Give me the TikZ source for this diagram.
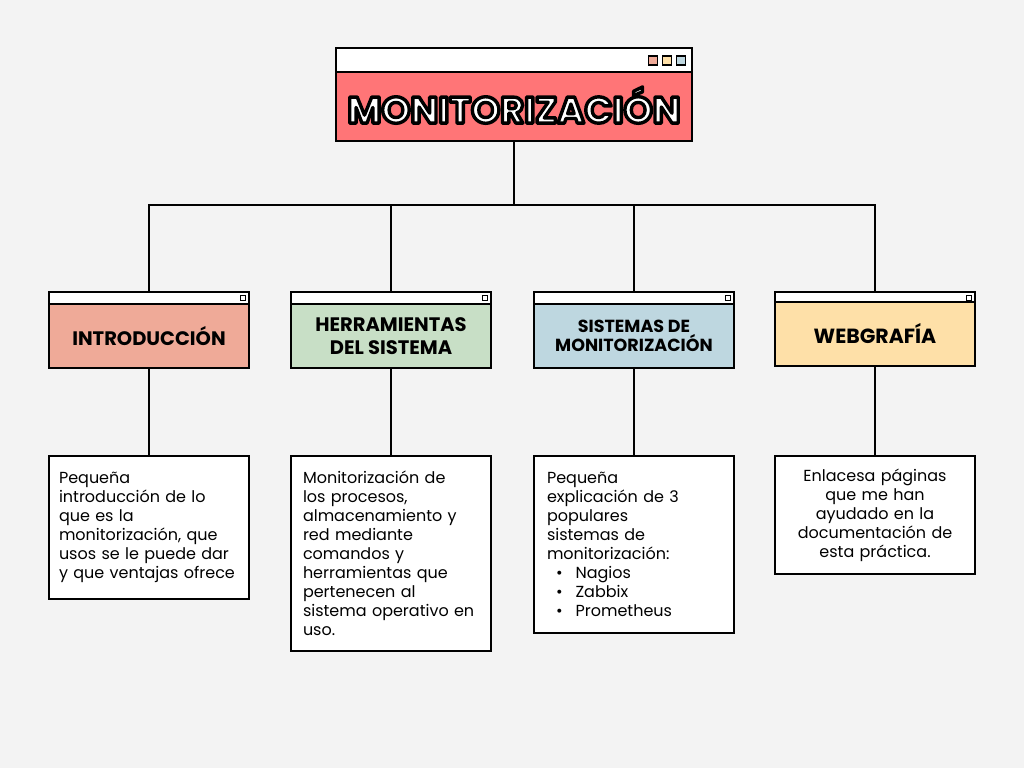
\documentclass[tikz,border=0pt]{standalone}
\usepackage{fontspec}
\setmainfont{Poppins}
\usetikzlibrary{positioning}
\definecolor{paper}{HTML}{F3F3F3}
\definecolor{titlecol}{HTML}{FF7577}
\definecolor{introcol}{HTML}{EFAA98}
\definecolor{herrcol}{HTML}{C8DFC6}
\definecolor{sistcol}{HTML}{BED7E0}
\definecolor{webcol}{HTML}{FEE0A8}
\tikzset{
    every node/.style={draw=black, line width=2pt, inner sep=0pt, outer sep=0pt}
}
\tikzset{
    headbox/.style={minimum width=200pt, minimum height=64pt, align=center,
      font=\bfseries\fontsize{19.5}{23}\selectfont},
    barbox/.style={fill=white, minimum width=200pt, minimum height=12pt},
    dotbox/.style={line width=1.2pt, minimum size=5pt, fill=white},
    textbox/.style={fill=white, anchor=north, text width=180pt, inner xsep=10pt,
      font=\fontsize{16}{19}\selectfont},
    conn/.style={line width=2pt}
}
\newcommand{\bulletitem}[1]{\hspace*{9pt}•\hspace{13pt}#1}
\newcommand{\outlined}[1]{\special{pdf:literal direct 2 Tr 3.4 w 1 j 0 0 0 RG}#1\special{pdf:literal direct 0 Tr}}

\begin{document}
\begin{tikzpicture}[x=1pt, y=-1pt]
  \fill[paper] (0, 0) rectangle (1024, 768);
  \useasboundingbox (0, 0) rectangle (1024, 768);

  \node (titlebar) [barbox, minimum width=356pt, minimum height=24pt] at (514, 60) {};
  \node (title) [fill=titlecol, minimum width=356pt, minimum height=69pt, text=white,
    font=\bfseries\fontsize{37}{37}\selectfont] at (514, 106.5) {\raisebox{3pt}{\outlined{MONITORIZACIÓN}}};
  \node (sq1) [dotbox, minimum size=9pt, fill=introcol] at (653, 60.5) {};
  \node (sq2) [dotbox, minimum size=9pt, fill=webcol] at (667, 60.5) {};
  \node (sq3) [dotbox, minimum size=9pt, fill=sistcol] at (681, 60.5) {};

  \coordinate (hub) at (514, 205);

  \node (introbar) [barbox] at (149, 298) {};
  \node (intro) [headbox, fill=introcol] at (149, 336) {INTRODUCCIÓN};
  \node (introdot) [dotbox] at (243, 298) {};

  \node (herrbar) [barbox] at (391, 298) {};
  \node (herr) [headbox, fill=herrcol] at (391, 336) {HERRAMIENTAS\\DEL SISTEMA};
  \node (herrdot) [dotbox] at (485, 298) {};

  \node (sistbar) [barbox] at (634, 298) {};
  \node (sist) [headbox, fill=sistcol, font=\bfseries\fontsize{17.5}{19}\selectfont] at (634, 336) {SISTEMAS DE\\MONITORIZACIÓN};
  \node (sistdot) [dotbox] at (728, 298) {};

  \node (webbar) [barbox] at (875, 298) {};
  \node (web) [headbox, fill=webcol, font=\bfseries\fontsize{20.5}{23}\selectfont] at (875, 334) {WEBGRAFÍA};
  \node (webdot) [dotbox] at (969, 298) {};

  \node (introtxt) [textbox, minimum height=143pt, align=left] at (149, 456) {Pequeña\\introducción de lo\\que es la\\monitorización, que\\usos se le puede dar\\y que ventajas ofrece};
  \node (herrtxt) [textbox, minimum height=195pt, align=left, inner xsep=12pt, text width=176pt] at (391, 456) {Monitorización de\\los procesos,\\almacenamiento y\\red mediante\\comandos y\\herramientas que\\pertenecen al\\sistema operativo en\\uso.};
  \node (sisttxt) [textbox, minimum height=177pt, align=left, inner xsep=13pt, text width=174pt] at (634, 456) {Pequeña\\explicación de 3\\populares\\sistemas de\\monitorización:\\\bulletitem{Nagios}\\\bulletitem{Zabbix}\\\bulletitem{Prometheus}};
  \node (webtxt) [textbox, minimum height=118pt, align=center] at (875, 456) {Enlacesa páginas\\que me han\\ayudado en la\\documentación de\\esta práctica.};

  \draw[conn] (title) edge (hub);
  \draw[conn] (hub) -| (introbar);
  \draw[conn] (hub) -| (herrbar);
  \draw[conn] (hub) -| (sistbar);
  \draw[conn] (hub) -| (webbar);
  \draw[conn] (intro) edge (introtxt);
  \draw[conn] (herr) edge (herrtxt);
  \draw[conn] (sist) edge (sisttxt);
  \draw[conn] (web) edge (webtxt);
\end{tikzpicture}
\end{document}
